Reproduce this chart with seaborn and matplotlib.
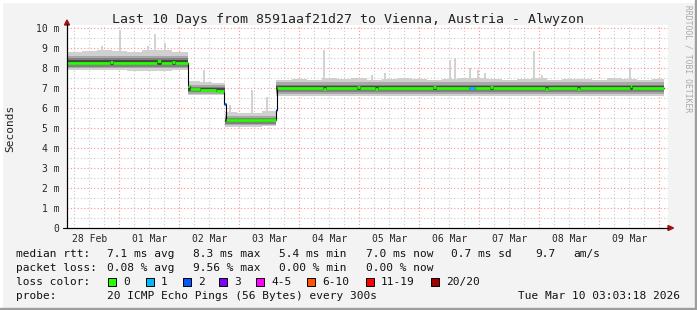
import numpy as np
import pandas as pd
import matplotlib
matplotlib.use("Agg")
import matplotlib.pyplot as plt
import seaborn as sns
from matplotlib.patches import Rectangle, Polygon
from matplotlib.lines import Line2D

sns.set_style("white")
plt.rcParams['font.family'] = ['DejaVu Sans Mono', 'DejaVu Sans']

# ---------------- data ----------------
title = "Last 10 Days from 8591aaf21d27 to Vienna, Austria - Alwyzon"
day_labels = ["28 Feb", "01 Mar", "02 Mar", "03 Mar", "04 Mar",
              "05 Mar", "06 Mar", "07 Mar", "08 Mar", "09 Mar"]
day_noons = [12, 36, 60, 84, 108, 132, 156, 180, 204, 228]   # hours since 28 Feb 00:00
ytick_vals = [0, 1, 2, 3, 4, 5, 6, 7, 8, 9, 10]
ytick_labels = ["0", "1 m", "2 m", "3 m", "4 m", "5 m", "6 m", "7 m", "8 m", "9 m", "10 m"]

# median rtt (ms) as steps; last entry is the end of data
med_t = [3.05, 20.25, 21.45, 39.05, 40.45, 45.05, 46.25, 51.45, 52.25, 56.25,
         62.65, 65.85, 66.45, 86.45, 87.05, 105.25, 106.45, 119.05, 120.25, 126.25,
         127.45, 149.45, 150.65, 163.65, 166.05, 172.25, 173.45, 194.25, 195.45, 207.05,
         208.25, 228.25, 229.05, 241.85]
med_v = [8.27, 8.31, 8.27, 8.33, 8.27, 8.31, 8.27, 7.10, 6.95, 6.90,
         6.85, 6.20, 5.38, 5.90, 7.00, 6.96, 7.00, 7.04, 7.00, 6.96,
         7.00, 7.04, 7.00, 7.00, 7.00, 7.05, 7.00, 6.96, 7.00, 6.95,
         7.00, 7.08, 7.00, 7.00]
med_loss = [0, 0, 0, 0, 0, 0, 0, 0, 0, 0,
            0, 2, 0, 2, 0, 0, 0, 0, 0, 0,
            0, 0, 0, 1, 0, 0, 0, 0, 0, 0,
            0, 0, 0, 0]

# smoke bands (ms), per time bin
band_edges = [3.05, 9.05, 15.05, 21.05, 27.05, 33.05, 39.05, 45.05, 51.45,
              56.25, 61.05, 66.05,
              71.05, 76.05, 81.05, 86.75,
              93.05, 99.05, 105.05, 111.05, 117.05, 123.05, 129.05, 135.05, 141.05,
              147.05, 153.05, 159.05, 165.05, 171.05, 177.05, 183.05, 189.05, 195.05,
              201.05, 207.05, 213.05, 219.05, 225.05, 231.05, 237.05, 241.85]
outer_hi = [8.78, 8.85, 8.88, 8.85, 8.80, 8.90, 8.90, 8.78,
            7.35, 7.30, 7.25,
            5.80, 5.75, 5.75, 5.85,
            7.40, 7.45, 7.40, 7.50, 7.45, 7.50, 7.40, 7.45, 7.50, 7.45, 7.40, 7.45, 7.50,
            7.50, 7.45, 7.40, 7.45, 7.50, 7.40, 7.45, 7.45, 7.40, 7.50, 7.45, 7.40, 7.45]
outer_lo = [7.90, 7.88, 7.88, 7.90, 7.86, 7.84, 7.86, 7.88,
            6.65, 6.66, 6.64,
            5.05, 5.06, 5.05, 5.08,
            6.62, 6.60, 6.62, 6.60, 6.58, 6.62, 6.60, 6.62, 6.60, 6.58, 6.62, 6.60, 6.62,
            6.60, 6.58, 6.62, 6.60, 6.62, 6.60, 6.58, 6.62, 6.60, 6.62, 6.60, 6.62, 6.60]
mid_hi = [8.62] * 8 + [7.15] * 3 + [5.62] * 4 + [7.28] * 26
mid_lo = [7.98] * 8 + [6.72] * 3 + [5.15] * 4 + [6.72] * 26
inner_hi = [8.48] * 8 + [7.05] * 3 + [5.50] * 4 + [7.16] * 26
inner_lo = [8.06] * 8 + [6.78] * 3 + [5.22] * 4 + [6.82] * 26
core_hi = [8.38] * 8 + [6.98] * 3 + [5.45] * 4 + [7.08] * 26
core_lo = [8.15] * 8 + [6.83] * 3 + [5.29] * 4 + [6.91] * 26

# isolated high pings (hours, ms)
spike_t = [17.05, 24.25, 35.45, 38.25, 42.25, 57.85, 68.25, 77.05, 83.05, 105.85,
           125.05, 130.25, 156.25, 158.25, 164.25, 167.45, 170.25, 189.85, 193.05, 228.25]
spike_v = [9.10, 9.90, 9.10, 9.70, 9.25, 7.90, 6.15, 6.90, 6.55, 8.90,
           7.65, 7.75, 8.40, 8.50, 8.00, 7.90, 7.75, 8.85, 7.65, 8.00]

loss_colors = ['#26ff00', '#00b8ff', '#0059ff', '#7e00ff', '#ff00ff', '#ff5500', '#ff0000', '#a10000']
loss_names = ['0', '1', '2', '3', '4-5', '6-10', '11-19', '20/20']

stats_rtt = ["7.1 ms avg", "8.3 ms max", "5.4 ms min", "7.0 ms now", "0.7 ms sd", "9.7", "am/s"]
stats_loss = ["0.08 % avg", "9.56 % max", "0.00 % min", "0.00 % now"]
probe_text = "20 ICMP Echo Pings (56 Bytes) every 300s"
stamp_text = "Tue Mar 10 03:03:18 2026"

# ---------------- layout ----------------
W, H = 697, 310
BG = '#f3f3f3'
fig = plt.figure(figsize=(W / 100, H / 100), dpi=100, facecolor=BG)


def fx(px):
    return px / W


def fy(py):
    return 1 - py / H


x0, x1 = 3.05, 243.45
ax = fig.add_axes([fx(67), fy(228), 601 / W, 203 / H])
ax.set_facecolor('white')
ax.set_xlim(x0, x1)
ax.set_ylim(0, 10.15)

# grid
for h in np.arange(6, 243, 6):
    if h % 24 != 0:
        ax.axvline(h, color='#c8c8c8', lw=0.8, ls=(0, (1, 2)), zorder=0.5)
for h in np.arange(24, 243, 24):
    ax.axvline(h, color='#ff9090', lw=0.8, ls=(0, (1, 2)), zorder=0.6)
for v in np.arange(0.5, 10, 1.0):
    ax.axhline(v, color='#c8c8c8', lw=0.8, ls=(0, (1, 2)), zorder=0.5)
for v in range(1, 11):
    ax.axhline(v, color='#ff9090', lw=0.8, ls=(0, (1, 2)), zorder=0.6)

# spikes (drawn from the median upward, under the smoke)
med_idx = np.searchsorted(med_t, spike_t, side='right') - 1
spike_base = [med_v[i] for i in med_idx]
ax.bar(spike_t, np.array(spike_v) - np.array(spike_base), bottom=spike_base,
       width=0.8, color='#d2d2d2', zorder=1, linewidth=0)

# smoke
def band(lo, hi, color, z):
    ax.fill_between(band_edges, list(lo) + [lo[-1]], list(hi) + [hi[-1]],
                    step='post', color=color, linewidth=0, zorder=z)

band(outer_lo, outer_hi, '#d0d0d0', 2)
band(mid_lo, mid_hi, '#a8a8a8', 3)
band(inner_lo, inner_hi, '#808080', 4)
band(core_lo, core_hi, '#484848', 5)

# median: black connector then loss-coloured segments
df = pd.DataFrame({'t': med_t, 'v': med_v})
sns.lineplot(data=df, x='t', y='v', ax=ax, color='black', lw=0.8,
             drawstyle='steps-post', estimator=None, sort=False, zorder=6)
for i in range(len(med_t) - 1):
    ax.hlines(med_v[i], med_t[i], med_t[i + 1], color=loss_colors[med_loss[i]],
              lw=2.0, zorder=7)
ax.set_xlabel('')
ax.set_ylabel('')

# axes / ticks
for s in ['top', 'right']:
    ax.spines[s].set_visible(False)
for s in ['left', 'bottom']:
    ax.spines[s].set_color('black')
    ax.spines[s].set_linewidth(0.8)
    ax.spines[s].set_zorder(8)
ax.set_xticks(day_noons)
ax.set_xticklabels(day_labels, fontsize=7)
ax.set_yticks(ytick_vals)
ax.set_yticklabels(ytick_labels, fontsize=7)
ax.tick_params(axis='x', length=0, pad=4)
ax.tick_params(axis='y', length=2.5, width=0.8, pad=3, color='#333333', direction='out')

# arrows
fig.patches.append(Polygon([[fx(64.5), fy(25)], [fx(69.5), fy(25)], [fx(67), fy(20)]],
                           closed=True, transform=fig.transFigure, color='#a01010'))
fig.add_artist(Line2D([fx(67), fx(67)], [fy(228), fy(24)], color='black', lw=0.8,
                      transform=fig.transFigure))
fig.patches.append(Polygon([[fx(668), fy(225.5)], [fx(668), fy(230.5)], [fx(673.5), fy(228)]],
                           closed=True, transform=fig.transFigure, color='#a01010'))
fig.add_artist(Line2D([fx(63), fx(668)], [fy(228), fy(228)], color='black', lw=0.8,
                      transform=fig.transFigure))

# titles
fig.text(fx(348), fy(19), title, fontsize=9.5, ha='center', va='center', color='#222222')
fig.text(fx(10), fy(128), "Seconds", fontsize=8, rotation=90, ha='center', va='center',
         color='#222222')
fig.text(fx(688), fy(5), "RRDTOOL / TOBI OETIKER", fontsize=5.8, rotation=270,
         ha='center', va='top', color='#a8a8a8')

# legend lines
TXT = '#111111'
FS = 8
y1, y2, y3, y4 = 254, 268, 282, 296
fig.text(fx(16), fy(y1), "median rtt:", fontsize=FS, va='center', color=TXT)
for xpos, s in zip([107, 193, 279, 366, 451, 535, 573], stats_rtt):
    fig.text(fx(xpos), fy(y1), s, fontsize=FS, va='center', color=TXT)
fig.text(fx(16), fy(y2), "packet loss:", fontsize=FS, va='center', color=TXT)
for xpos, s in zip([107, 193, 279, 366], stats_loss):
    fig.text(fx(xpos), fy(y2), s, fontsize=FS, va='center', color=TXT)
fig.text(fx(16), fy(y3), "loss color:", fontsize=FS, va='center', color=TXT)
box_x = [108, 146, 183, 219, 256, 307, 366, 431]
for bx, c, name in zip(box_x, loss_colors, loss_names):
    fig.patches.append(Rectangle((fx(bx), fy(y3 + 4)), 8 / W, 8 / H, transform=fig.transFigure,
                                 facecolor=c, edgecolor='black', lw=0.7))
    fig.text(fx(bx + 15), fy(y3), name, fontsize=FS, va='center', color=TXT)
fig.text(fx(16), fy(y4), "probe:", fontsize=FS, va='center', color=TXT)
fig.text(fx(107), fy(y4), probe_text, fontsize=FS, va='center', color=TXT)
fig.text(fx(680), fy(y4), stamp_text, fontsize=FS, va='center', ha='right', color=TXT)

# 3D frame
fig.patches.append(Rectangle((0, fy(2)), 1, 2 / H, transform=fig.transFigure, color='white'))
fig.patches.append(Rectangle((0, 0), 2 / W, 1, transform=fig.transFigure, color='white'))
fig.patches.append(Rectangle((0, 0), 1, 2 / H, transform=fig.transFigure, color='#9e9e9e'))
fig.patches.append(Rectangle((fx(695), 0), 2 / W, 1, transform=fig.transFigure, color='#9e9e9e'))

fig.savefig('out.png', dpi=100, facecolor=BG)
